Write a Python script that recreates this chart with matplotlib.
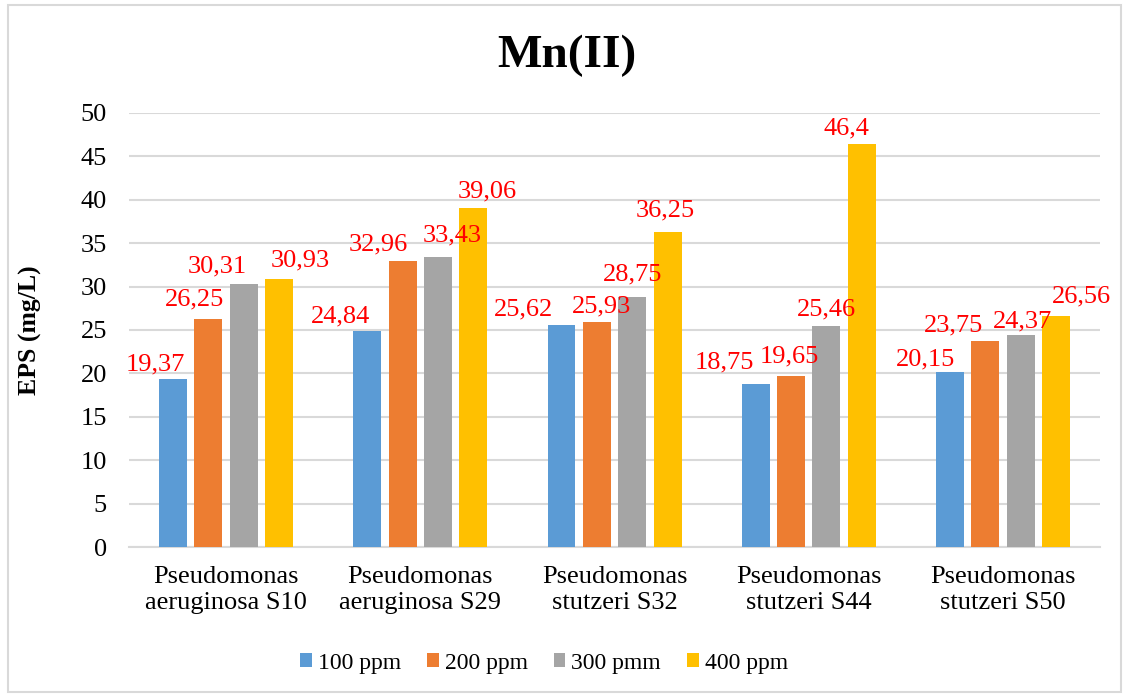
import matplotlib
matplotlib.use("Agg")
import matplotlib.pyplot as plt
from matplotlib.patches import Rectangle
import numpy as np

plt.rcParams['font.family'] = ['Liberation Serif', 'DejaVu Serif']

# --- data ---
categories = ["Pseudomonas\naeruginosa S10", "Pseudomonas\naeruginosa S29",
              "Pseudomonas\nstutzeri S32", "Pseudomonas\nstutzeri S44",
              "Pseudomonas\nstutzeri S50"]
series_names = ["100 ppm", "200 ppm", "300 pmm", "400 ppm"]
ppm100 = [19.37, 24.84, 25.62, 18.75, 20.15]
ppm200 = [26.25, 32.96, 25.93, 19.65, 23.75]
ppm300 = [30.31, 33.43, 28.75, 25.46, 24.37]
ppm400 = [30.93, 39.06, 36.25, 46.4, 26.56]
valores = [ppm100, ppm200, ppm300, ppm400]
colores = ["#5b9bd5", "#ed7d31", "#a5a5a5", "#ffc000"]

# desplazamiento de etiquetas (px) tal como en el original
offsets = [
    [(-18, 8), (-27, 9), (-38, 9), (-31, 16), (-24, 7)],
    [(-14, 14), (-24, 10), (5, 9), (-2, 14), (-32, 9)],
    [(-27, 11), (14, 15), (0, 17), (0, 11), (2, 8)],
    [(21, 12), (14, 10), (-2, 16), (-15, 10), (26, 14)],
]

fig = plt.figure(figsize=(11.26, 6.97), dpi=100)
ax = fig.add_axes([0.1146, 0.2152, 0.8623, 0.6227])

x = np.arange(len(categories))
ancho = 0.144
paso = 0.182
for i, (vals, nombre, col) in enumerate(zip(valores, series_names, colores)):
    pos = x + (i - 1.5) * paso
    ax.bar(pos, vals, width=ancho, color=col, label=nombre, zorder=3)
    for xp, v, (dx, dy) in zip(pos, vals, offsets[i]):
        ax.annotate(str(v).replace('.', ','), (xp, v), xytext=(dx, dy),
                    textcoords='offset pixels', ha='center', va='baseline',
                    color='red', fontsize=19, zorder=4)

ax.set_xlim(-0.5, len(categories) - 0.5)
ax.set_ylim(0, 50)
ax.set_yticks(np.arange(0, 51, 5))
ax.set_xticks(x)
ax.set_xticklabels(categories, fontsize=19)
ax.tick_params(axis='y', labelsize=19, length=0, pad=16)
ax.tick_params(axis='x', length=0, pad=14)
ax.grid(axis='y', color='#d9d9d9', linewidth=1.5, zorder=0)
for s in ['top', 'right', 'left']:
    ax.spines[s].set_visible(False)
ax.spines['bottom'].set_color('#d9d9d9')
ax.spines['bottom'].set_linewidth(1.5)

ax.set_ylabel("EPS (mg/L)", fontsize=18.5, fontweight='bold')
ax.yaxis.set_label_coords(-0.09, 0.5)

fig.text(0.503, 1 - 56 / 697, "Mn(II)", fontsize=34, fontweight='bold',
         ha='center', va='center')

fig.legend(loc='center', bbox_to_anchor=(544 / 1126, 1 - 663 / 697), ncol=4,
           frameon=False, fontsize=17, handlelength=0.5, handleheight=0.5,
           handletextpad=0.25, columnspacing=1.1)

fig.patches.append(Rectangle((8 / 1126, 5 / 697), 1113 / 1126, 687 / 697,
                             transform=fig.transFigure, fill=False,
                             edgecolor='#d9d9d9', linewidth=1.5))

fig.savefig("out.png", dpi=100)
